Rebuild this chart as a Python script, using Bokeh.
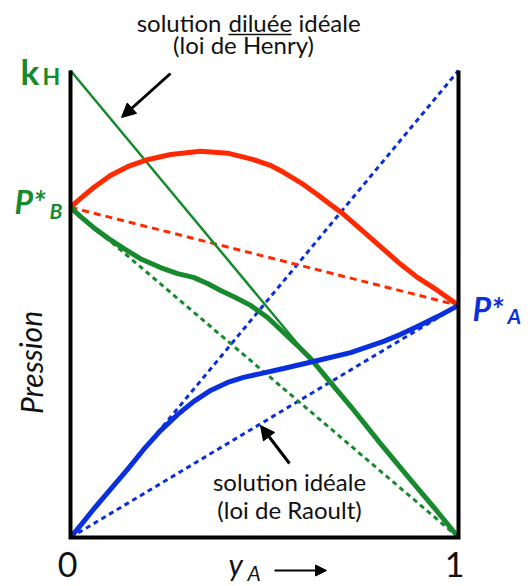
from bokeh.plotting import figure
from bokeh.models import Label, Arrow, NormalHead, Range1d
from bokeh.embed import file_html
from bokeh.resources import INLINE

# ---------------- data ----------------
P_B = 0.707      # vapour pressure of pure B
P_A = 0.497      # vapour pressure of pure A
K_H = 1.0        # Henry constant of B (and of A)

# total pressure (red)
x_tot = [0.0, 0.026, 0.059, 0.103, 0.147, 0.198, 0.258, 0.335, 0.405, 0.472, 0.515, 0.549,
         0.593, 0.637, 0.670, 0.704, 0.755, 0.807, 0.851, 0.894, 0.946, 1.0]
p_tot = [0.707, 0.726, 0.749, 0.775, 0.794, 0.809, 0.820, 0.827, 0.823, 0.809, 0.797, 0.782,
         0.760, 0.734, 0.713, 0.692, 0.655, 0.617, 0.585, 0.557, 0.529, 0.497]

# partial pressure of B (green)
x_b = [0.0, 0.026, 0.059, 0.098, 0.137, 0.180, 0.232, 0.276, 0.317, 0.353, 0.387, 0.425,
       0.464, 0.508, 0.549, 0.585, 0.619, 0.670, 0.722, 0.799, 0.876, 0.941, 1.0]
p_b = [0.707, 0.687, 0.664, 0.640, 0.619, 0.597, 0.578, 0.565, 0.557, 0.544, 0.529, 0.514,
       0.497, 0.471, 0.439, 0.411, 0.383, 0.332, 0.281, 0.201, 0.124, 0.060, 0.0]

# partial pressure of A (blue)
x_a = [0.0, 0.026, 0.059, 0.103, 0.147, 0.188, 0.232, 0.276, 0.317, 0.361, 0.405, 0.446,
       0.490, 0.549, 0.637, 0.722, 0.807, 0.851, 0.894, 0.946, 1.0]
p_a = [0.0, 0.026, 0.060, 0.103, 0.146, 0.188, 0.229, 0.263, 0.291, 0.315, 0.332, 0.343,
       0.351, 0.362, 0.379, 0.396, 0.420, 0.435, 0.452, 0.473, 0.497]

# straight reference lines: endpoints at y_A = 0 and y_A = 1
ends = [0.0, 1.0]
raoult_tot = [P_B, P_A]
raoult_b = [P_B, 0.0]
raoult_a = [0.0, P_A]
henry_b = [K_H, 0.0]
henry_a = [0.0, K_H]

frame_x = [0.0, 0.0, 1.0, 1.0]
frame_y = [K_H, 0.0, 0.0, K_H]

tick_labels = ["0", "1"]

# ---------------- styles ----------------
RED = "#ff2a00"
GREEN = "#178a2e"
BLUE = "#0a2fdc"
FONT = "Lato"

# page pixel -> data helpers (for text placement only)
def dx(px):
    return (px - 70) / 388.0

def dy(py):
    return (537 - py) / 467.0

p = figure(width=531, height=586, output_backend="svg", toolbar_location=None,
           x_axis_type=None, y_axis_type=None, min_border=0,
           x_range=Range1d(dx(0), dx(531)), y_range=Range1d(dy(586), dy(0)))
p.outline_line_color = None
p.background_fill_color = "white"
p.border_fill_color = "white"

# dotted ideal lines
p.line(ends, henry_a, line_color=BLUE, line_width=3, line_dash="5 4")
p.line(ends, raoult_a, line_color=BLUE, line_width=3, line_dash="5 4")
p.line(ends, raoult_b, line_color=GREEN, line_width=3, line_dash="5 4")
p.line(ends, raoult_tot, line_color=RED, line_width=3, line_dash="7 5")
# Henry's law for B
p.line(ends, henry_b, line_color=GREEN, line_width=2.5)

# real curves
p.line(x_tot, p_tot, line_color=RED, line_width=5, line_join="round")
p.line(x_b, p_b, line_color=GREEN, line_width=5, line_join="round")
p.line(x_a, p_a, line_color=BLUE, line_width=5, line_join="round")

# frame
p.line(frame_x, frame_y, line_color="black", line_width=4, line_join="miter")

def lab(x, y, text, size, color="#111111", style="normal", align="left", angle=0):
    p.add_layout(Label(x=x, y=y, text=text, text_font=FONT, text_font_size=size,
                       text_color=color, text_font_style=style, text_align=align,
                       text_baseline="middle", angle=angle))

# tick labels
lab(dx(67), dy(564), tick_labels[0], "34px", align="center")
lab(dx(454), dy(564), tick_labels[1], "34px", align="center")

# axis title y_A with arrow
lab(dx(228), dy(563), "y", "30px", style="italic")
lab(dx(247), dy(572), "A", "21px", style="italic")
p.add_layout(Arrow(x_start=dx(274), y_start=dy(570), x_end=dx(326), y_end=dy(570),
                   line_width=2, line_color="black",
                   end=NormalHead(size=11, fill_color="black", line_color="black")))

# y title
lab(dx(30), dy(362), "Pression", "30px", style="italic", align="center", angle=1.5708)

# k_H
lab(dx(20), dy(70), "k", "35px", color=GREEN, style="bold")
lab(dx(42), dy(75), "H", "23px", color=GREEN, style="bold")
# P*_B
lab(dx(14), dy(201), "P*", "32px", color=GREEN, style="bold italic")
lab(dx(49), dy(210), "B", "21px", color=GREEN, style="bold italic")
# P*_A
lab(dx(472), dy(308), "P*", "32px", color=BLUE, style="bold italic")
lab(dx(507), dy(315), "A", "21px", color=BLUE, style="bold italic")

# Henry annotation
lab(dx(221), dy(22), "solution", "24px", align="right")
lab(dx(228), dy(22), "diluée", "24px", align="left")
lab(dx(298), dy(22), "idéale", "24px", align="left")
lab(dx(243), dy(44), "(loi de Henry)", "24px", align="center")
p.segment(x0=[dx(228)], y0=[dy(34)], x1=[dx(291)], y1=[dy(34)], line_color="#111111", line_width=1.5)
p.add_layout(Arrow(x_start=dx(170), y_start=dy(73), x_end=dx(121), y_end=dy(117),
                   line_width=3, line_color="black",
                   end=NormalHead(size=14, fill_color="black", line_color="black")))

# Raoult annotation
lab(dx(289), dy(481), "solution idéale", "24px", align="center")
lab(dx(289), dy(509), "(loi de Raoult)", "24px", align="center")
p.add_layout(Arrow(x_start=dx(289), y_start=dy(463), x_end=dx(260), y_end=dy(425),
                   line_width=3, line_color="black",
                   end=NormalHead(size=14, fill_color="black", line_color="black")))

open("out.html", "w").write(file_html(p, INLINE))
